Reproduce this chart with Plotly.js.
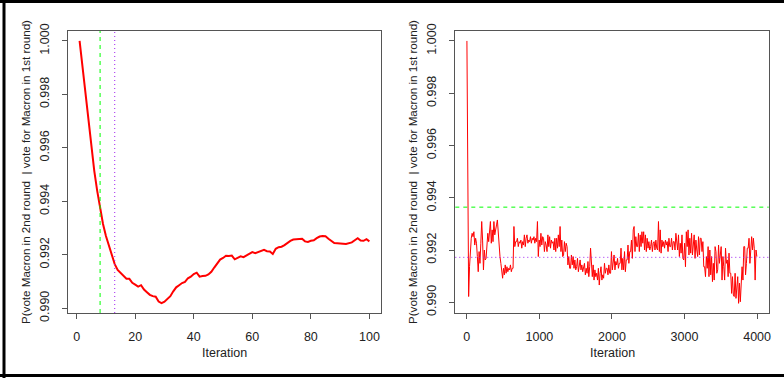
<!DOCTYPE html>
<html>
<head>
<meta charset="utf-8">
<script src="https://cdn.plot.ly/plotly-3.0.1.min.js"></script>
<style>
html,body{margin:0;padding:0;background:#fff;}
#chart{width:784px;height:378px;}
</style>
</head>
<body>
<div id="chart"></div>
<script>
// ---- Left panel: first 100 iterations ----
const leftValues = [
  1.00000, 0.99905, 0.99805, 0.99705, 0.99605, 0.99515, 0.99440, 0.99370, 0.99315, 0.99270,
  0.99235, 0.99198, 0.99165, 0.99143, 0.99132, 0.99118, 0.99110, 0.99110, 0.99095, 0.99088,
  0.99081, 0.99086, 0.99070, 0.99060, 0.99050, 0.99045, 0.99043, 0.99025, 0.99019, 0.99024,
  0.99035, 0.99045, 0.99063, 0.99078, 0.99086, 0.99094, 0.99098, 0.99112, 0.99118, 0.99128,
  0.99133, 0.99118, 0.99120, 0.99121, 0.99126, 0.99136, 0.99152, 0.99165, 0.99182, 0.99188,
  0.99196, 0.99195, 0.99197, 0.99183, 0.99190, 0.99194, 0.99191, 0.99198, 0.99203, 0.99210,
  0.99206, 0.99210, 0.99215, 0.99218, 0.99213, 0.99212, 0.99203, 0.99222, 0.99228, 0.99230,
  0.99236, 0.99245, 0.99252, 0.99257, 0.99258, 0.99259, 0.99260, 0.99250, 0.99248, 0.99252,
  0.99254, 0.99262, 0.99268, 0.99270, 0.99269, 0.99260, 0.99252, 0.99244, 0.99243, 0.99243,
  0.99241, 0.99240, 0.99242, 0.99246, 0.99254, 0.99262, 0.99253, 0.99252, 0.99258, 0.99250
];
const leftIter = leftValues.map((_, i) => i + 1);
const leftVLines = [8, 13];            // green dashed, purple dotted

// ---- Right panel: 4000-iteration trace (thinned, evenly spaced) ----
const rightFirstIter = 1, rightLastIter = 3997;
const rightValues = [
  1.00000, 0.99250, 0.99022,
  0.99136, 0.99200, 0.99245, 0.99264,  0.99251, 0.99270, 0.99219, 0.99245,
  0.99226, 0.99175, 0.99117, 0.99194,  0.99149, 0.99226, 0.99309,
  0.99238, 0.99124, 0.99200, 0.99162,  0.99168, 0.99213, 0.99264, 0.99232,
  0.99264, 0.99309, 0.99226, 0.99277,  0.99232, 0.99309, 0.99258, 0.99290,
  0.99296, 0.99315, 0.99251, 0.99213,  0.99175, 0.99149, 0.99124, 0.99092,
  0.99130, 0.99105, 0.99143,           0.99111, 0.99136, 0.99117, 0.99130,
  0.99124, 0.99143, 0.99117, 0.99130,  0.99130, 0.99290, 0.99213, 0.99232,
  0.99232, 0.99245, 0.99213, 0.99232,  0.99226, 0.99238, 0.99207, 0.99232,
  0.99219, 0.99258, 0.99213,           0.99245, 0.99258, 0.99226, 0.99238,
  0.99232, 0.99251, 0.99226, 0.99245,  0.99238, 0.99251, 0.99226, 0.99245,
  0.99232, 0.99309, 0.99175, 0.99238,  0.99213, 0.99264, 0.99219, 0.99251,
  0.99245, 0.99194, 0.99232, 0.99219,  0.99194, 0.99258, 0.99213,
  0.99251, 0.99207, 0.99238, 0.99226,  0.99232, 0.99200, 0.99245, 0.99194,
  0.99245, 0.99207, 0.99258, 0.99213,  0.99290, 0.99194, 0.99238, 0.99175,
  0.99181, 0.99232, 0.99194, 0.99226,  0.99213, 0.99143, 0.99175, 0.99130,
  0.99130, 0.99181, 0.99143,           0.99175, 0.99130, 0.99162, 0.99124,
  0.99136, 0.99168, 0.99117, 0.99149,  0.99162, 0.99124, 0.99143, 0.99117,
  0.99136, 0.99149, 0.99105, 0.99130,  0.99111, 0.99156, 0.99098, 0.99136,
  0.99207, 0.99117, 0.99098,           0.99143, 0.99085, 0.99124, 0.99098,
  0.99111, 0.99085, 0.99130, 0.99066,  0.99111, 0.99136, 0.99085, 0.99105,
  0.99092, 0.99149, 0.99111, 0.99130,  0.99130, 0.99105, 0.99143, 0.99111,
  0.99111, 0.99194, 0.99124, 0.99156,  0.99181, 0.99124, 0.99156,
  0.99143, 0.99168, 0.99130, 0.99149,  0.99149, 0.99207, 0.99124, 0.99168,
  0.99124, 0.99194, 0.99117, 0.99162,  0.99162, 0.99219, 0.99149, 0.99194,
  0.99194, 0.99238, 0.99168, 0.99277,  0.99290, 0.99194, 0.99251, 0.99213,
  0.99213, 0.99264, 0.99194,           0.99258, 0.99213, 0.99270, 0.99226,
  0.99270, 0.99200, 0.99258, 0.99194,  0.99245, 0.99207, 0.99232, 0.99200,
  0.99213, 0.99238, 0.99194, 0.99226,  0.99232, 0.99200, 0.99238, 0.99207,
  0.99200, 0.99309, 0.99194,           0.99277, 0.99188, 0.99238, 0.99213,
  0.99232, 0.99207, 0.99238, 0.99219,  0.99232, 0.99194, 0.99245, 0.99213,
  0.99213, 0.99245, 0.99200, 0.99232,  0.99232, 0.99200, 0.99264, 0.99213,
  0.99200, 0.99258, 0.99175, 0.99226,  0.99188, 0.99258, 0.99168,
  0.99162, 0.99226, 0.99136, 0.99270,  0.99213, 0.99277, 0.99181, 0.99245,
  0.99188, 0.99264, 0.99181, 0.99245,  0.99258, 0.99168, 0.99238, 0.99200,
  0.99175, 0.99251, 0.99181, 0.99245,  0.99245, 0.99194, 0.99232, 0.99136,
  0.99136, 0.99098, 0.99175,           0.99130, 0.99213, 0.99098, 0.99200,
  0.99105, 0.99175, 0.99079, 0.99149,  0.99085, 0.99213, 0.99194, 0.99111,
  0.99124, 0.99219, 0.99149, 0.99188,  0.99213, 0.99085, 0.99175, 0.99136,
  0.99085, 0.99207, 0.99149,           0.99162, 0.99098, 0.99188, 0.99111,
  0.99111, 0.99034, 0.99098, 0.99028,  0.99022, 0.99111, 0.99015, 0.99085,
  0.99098, 0.98996, 0.99073, 0.99002,  0.99060, 0.99136, 0.99085, 0.99213,
  0.99213, 0.99105, 0.99149, 0.99207,  0.99207, 0.99245, 0.99149,
  0.99232, 0.99251, 0.99200, 0.99245,  0.99207, 0.99085, 0.99200, 0.99175
];
const rightStep = (rightLastIter - rightFirstIter) / (rightValues.length - 1);
const rightIter = rightValues.map((_, k) => rightFirstIter + k * rightStep);
const rightHLines = [0.99364, 0.99172];  // green dashed, purple dotted

const yTitle = "P(vote Macron in 2nd round  | vote for Macron in 1st round)";
const xTitle = "Iteration";

const W = 784, H = 378;
const px = v => v / W;
const py = v => 1 - v / H;

const FONT = {family: "Liberation Sans, Arial, sans-serif", size: 12.5, color: "#222"};
const TFONT = {family: "Liberation Sans, Arial, sans-serif", size: 11.6, color: "#222"};
const AX = {
  showline: true, mirror: true, linecolor: "#555", linewidth: 1,
  ticks: "outside", ticklen: 5, tickcolor: "#555", tickwidth: 1,
  showgrid: false, zeroline: false, tickfont: FONT, fixedrange: true
};

const traces = [
  {x: leftIter, y: leftValues, type: "scatter", mode: "lines",
   line: {color: "#ff0000", width: 2}, xaxis: "x", yaxis: "y", hoverinfo: "skip"},
  {x: rightIter, y: rightValues, type: "scatter", mode: "lines",
   line: {color: "#ff0000", width: 1}, xaxis: "x2", yaxis: "y2", hoverinfo: "skip"}
];

const GREEN = {color: "#00ff00", width: 1, dash: "4px,4px"};
const PURPLE = {color: "#a020f0", width: 1, dash: "1px,3px"};

const shapes = [
  {type: "line", xref: "x", yref: "y domain", x0: leftVLines[0], x1: leftVLines[0], y0: 0, y1: 1, line: GREEN},
  {type: "line", xref: "x", yref: "y domain", x0: leftVLines[1], x1: leftVLines[1], y0: 0, y1: 1, line: PURPLE},
  {type: "line", xref: "x2 domain", yref: "y2", x0: 0, x1: 1, y0: rightHLines[0], y1: rightHLines[0], line: GREEN},
  {type: "line", xref: "x2 domain", yref: "y2", x0: 0, x1: 1, y0: rightHLines[1], y1: rightHLines[1], line: PURPLE},
  // outer frame (top, left, bottom)
  {type: "line", xref: "paper", yref: "paper", x0: 0, x1: 1, y0: py(1.5), y1: py(1.5), line: {color: "#000", width: 3}},
  {type: "line", xref: "paper", yref: "paper", x0: px(4), x1: px(4), y0: 0, y1: 1, line: {color: "#000", width: 3}},
  {type: "line", xref: "paper", yref: "paper", x0: 0, x1: 1, y0: py(375.5), y1: py(375.5), line: {color: "#000", width: 3}}
];

const annotations = [
  {text: yTitle, xref: "paper", yref: "paper", x: px(25), y: py(172), textangle: -90, showarrow: false,
   font: TFONT, xanchor: "center", yanchor: "middle"},
  {text: yTitle, xref: "paper", yref: "paper", x: px(412), y: py(172), textangle: -90, showarrow: false,
   font: TFONT, xanchor: "center", yanchor: "middle"},
  {text: xTitle, xref: "paper", yref: "paper", x: px(224.5), y: py(353), showarrow: false,
   font: FONT, xanchor: "center", yanchor: "middle"},
  {text: xTitle, xref: "paper", yref: "paper", x: px(612), y: py(353), showarrow: false,
   font: FONT, xanchor: "center", yanchor: "middle"}
];

const layout = {
  width: W, height: H,
  margin: {l: 0, r: 0, t: 0, b: 0},
  paper_bgcolor: "#fff", plot_bgcolor: "#fff",
  showlegend: false,
  font: FONT,
  xaxis: Object.assign({}, AX, {domain: [px(68), px(381)], range: [-2.96, 103.96],
    tick0: 0, dtick: 20, anchor: "y", ticklabelstandoff: 7}),
  yaxis: Object.assign({}, AX, {domain: [py(313), py(31)], range: [0.98982, 1.00037],
    tick0: 0.990, dtick: 0.002, tickformat: ".3f", tickangle: -90, anchor: "x", ticklabelstandoff: 8}),
  xaxis2: Object.assign({}, AX, {domain: [px(455.3), px(768.7)], range: [-159, 4160],
    tick0: 0, dtick: 1000, tickformat: "d", anchor: "y2", ticklabelstandoff: 7}),
  yaxis2: Object.assign({}, AX, {domain: [py(313), py(31)], range: [0.98959, 1.00038],
    tick0: 0.990, dtick: 0.002, tickformat: ".3f", tickangle: -90, anchor: "x2", ticklabelstandoff: 8}),
  shapes: shapes,
  annotations: annotations
};

Plotly.newPlot("chart", traces, layout, {staticPlot: true, displayModeBar: false});
</script>
</body>
</html>
